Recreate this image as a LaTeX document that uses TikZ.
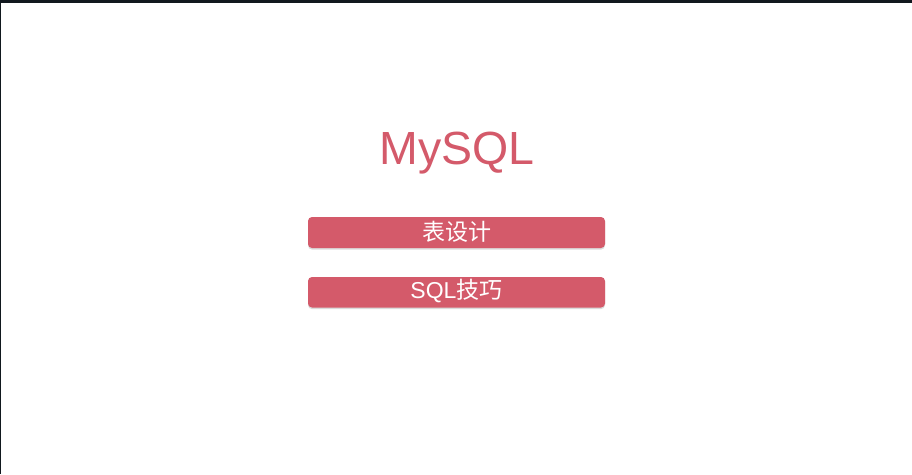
\documentclass[tikz,border=0pt]{standalone}
\usepackage{fontspec}
\setmainfont{Liberation Sans}
\newfontfamily\cjk{Noto Sans CJK SC}
\usetikzlibrary{shadows}
\definecolor{mysqlred}{HTML}{D45A6A}
\definecolor{framedark}{HTML}{11181E}
\tikzset{
  btn/.style={fill=mysqlred, draw=none, rounded corners=4pt,
    drop shadow={shadow xshift=0pt, shadow yshift=-1.6pt, opacity=0.28}},
  btntext/.style={text=white, font=\fontsize{23}{27}\selectfont, anchor=base, inner sep=0pt},
  title/.style={text=mysqlred, font=\fontsize{46.5}{52}\selectfont, anchor=base, inner sep=0pt}
}
\begin{document}
\begin{tikzpicture}[x=1pt,y=-1pt]
\useasboundingbox (0,0) rectangle (912,474);
\fill[white] (0,0) rectangle (912,474);
\fill[framedark] (0,0) rectangle (912,3);
\fill[framedark] (0,0) rectangle (1.2,474);
\node[title] (t) at (457,164.5) {MySQL};
\path[btn] (308,217) rectangle (605,248);
\coordinate (b1) at (456.5,232.5);
\node[btntext] (l1) at (456.5,240.5) {\cjk 表设计};
\path[btn] (308,277) rectangle (605,307.5);
\coordinate (b2) at (456.5,292.5);
\node[btntext] (l2) at (456.5,298.5) {SQL{\cjk 技巧}};
\end{tikzpicture}
\end{document}
